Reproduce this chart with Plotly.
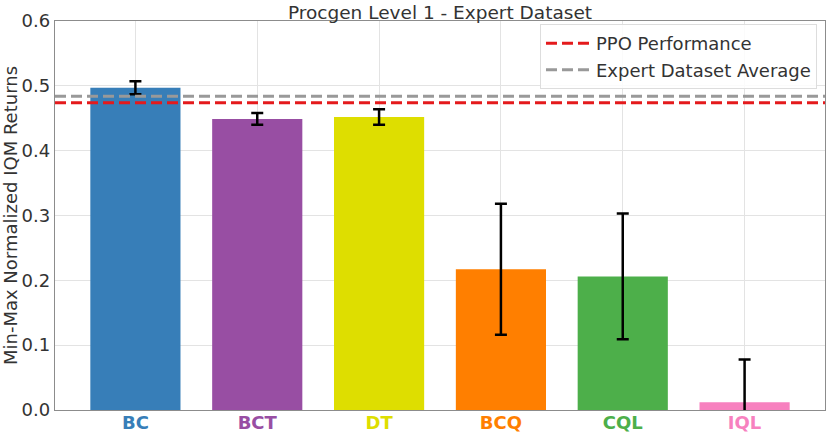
## ----------- imports ----------- ##
import plotly.graph_objects as go


## ----------- data ----------- ##
METHODS = ["BC", "BCT", "DT", "BCQ", "CQL", "IQL"]
IQM = [0.497, 0.449, 0.452, 0.217, 0.206, 0.012]
ERR = [0.010, 0.009, 0.012, 0.101, 0.097, 0.066]
COLORS = ["#377eb8", "#984ea3", "#dede00", "#ff7f00", "#4daf4a", "#f781bf"]

PPO_PERF = 0.474
EXPERT_AVG = 0.484

Y_TICKS = [0.0, 0.1, 0.2, 0.3, 0.4, 0.5, 0.6]

FONT = "DejaVu Sans"


def make_figure():
    fig = go.Figure()

    ## bars with error bars
    fig.add_trace(go.Bar(
        x=list(range(len(METHODS))),
        y=IQM,
        width=0.74,
        marker=dict(color=COLORS, line=dict(width=0)),
        error_y=dict(type="data", array=ERR, color="black", thickness=2.5, width=6),
        showlegend=False,
    ))

    ## reference lines (drawn as traces so they show in the legend)
    x_span = [-0.66, len(METHODS) - 0.34]
    fig.add_trace(go.Scatter(
        x=x_span, y=[PPO_PERF, PPO_PERF], mode="lines",
        line=dict(color="#e41a1c", width=3, dash="11px,5px"),
        name="PPO Performance",
    ))
    fig.add_trace(go.Scatter(
        x=x_span, y=[EXPERT_AVG, EXPERT_AVG], mode="lines",
        line=dict(color="#999999", width=3, dash="11px,5px"),
        name="Expert Dataset Average",
    ))

    ticktext = [
        f"<span style='color:{c}'><b>{m}</b></span>" for m, c in zip(METHODS, COLORS)
    ]

    fig.update_layout(
        width=830, height=436,
        margin=dict(l=55, r=5, t=21, b=26),
        paper_bgcolor="white",
        plot_bgcolor="white",
        font=dict(family=FONT, size=18, color="#333333"),
        title=dict(text="Procgen Level 1 - Expert Dataset",
                   xref="paper", x=0.5, xanchor="center",
                   yref="container", y=0.972, yanchor="middle",
                   font=dict(size=18.5, color="#333333"), automargin=False),
        xaxis=dict(
            range=x_span, tickvals=list(range(len(METHODS))), ticktext=ticktext,
            showgrid=True, gridcolor="#e3e3e3", gridwidth=1,
            showline=True, linecolor="#8c8c8c", linewidth=1.3, mirror=True,
            ticks="", tickfont=dict(size=18), zeroline=False, automargin=False,
            ticklabelstandoff=-4,
        ),
        yaxis=dict(
            range=[0, 0.6], tickvals=Y_TICKS, ticktext=[f"{v:.1f}" for v in Y_TICKS],
            showgrid=True, gridcolor="#e3e3e3", gridwidth=1,
            showline=True, linecolor="#8c8c8c", linewidth=1.3, mirror=True,
            ticks="", tickfont=dict(size=18), zeroline=False, automargin=False,
            title=dict(text="Min-Max Normalized IQM Returns", font=dict(size=18), standoff=4),
        ),
        legend=dict(
            x=0.9896, y=0.992, xanchor="right", yanchor="top",
            bgcolor="rgba(255,255,255,0.85)", bordercolor="#dddddd", borderwidth=1,
            font=dict(size=18), itemwidth=45, tracegroupgap=0,
        ),
    )
    return fig


def main():
    fig = make_figure()
    ## the page body has a default 8px margin; drop it so the figure sits at 0,0
    fig.write_html("out.html", config={"displayModeBar": False},
                   post_script="document.body.style.margin='0';")


if __name__ == "__main__":
    main()
